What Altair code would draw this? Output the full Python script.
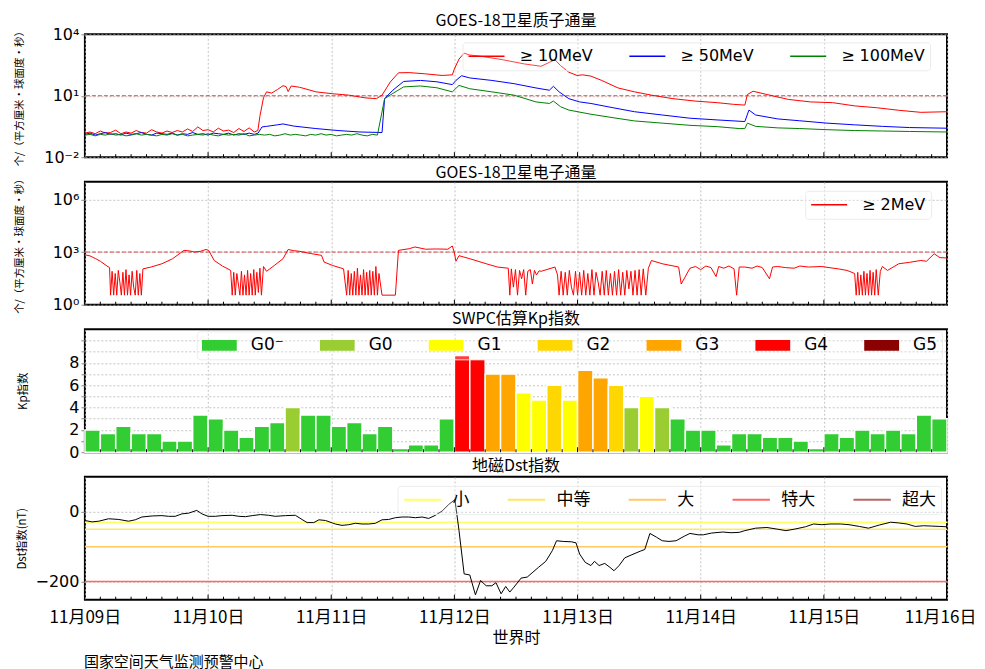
import altair as alt
import pandas as pd

FONT = "Noto Sans CJK SC"
NUMFONT = "DejaVu Sans, Noto Sans CJK SC"
BASE = pd.Timestamp("2025-11-09 00:00:00")
W, H = 863, 123

# ---------------- proton flux (hours since 11-09 00:00, values) ----------------
p10_h = [0, 1, 2, 3, 4, 5, 6, 7, 8, 9, 10, 11, 12, 13, 14, 15, 16, 17, 18, 19, 20, 21, 22, 23, 24, 25,
         26, 27, 28, 29, 30, 31, 32, 33, 33.7,
         34.1, 34.8, 35.4, 36.4, 37.5, 38.6, 39.2, 39.6, 40.2, 41.8,
         42.9, 45.0, 48.2, 51.4, 54.6, 56.8, 57.9, 59.5, 61.1, 63.2,
         66.4, 69.6, 71.6, 72.0, 72.9, 73.9, 75.0, 77.1, 81.4, 85.7,
         88.9, 90.5, 91.6, 92.7, 94.3, 95.9, 97.0, 98.6, 100.7, 103.9,
         107.1, 110.4, 114.6, 118.9, 123.2, 126.4, 128.6, 129.1, 130.2, 132.9,
         137.1, 141.4, 145.7, 150.0, 154.3, 158.6, 162.9, 168.0]
p10_v = [0.15, 0.17, 0.14, 0.19, 0.15, 0.16, 0.21, 0.14, 0.17, 0.15, 0.2, 0.16, 0.15, 0.22, 0.17, 0.15,
         0.19, 0.16, 0.2, 0.17, 0.24, 0.18, 0.3, 0.2, 0.22, 0.17, 0.26, 0.19, 0.21, 0.16, 0.25, 0.18,
         0.27, 0.17, 0.2,
         1.0, 8.0, 15.5, 13.5, 20, 31, 28, 16, 30, 26,
         22, 15.5, 12.6, 10.7, 7.9, 7.2, 10.7, 47, 132, 135,
         117, 98, 105, 204, 617, 1200, 977, 850, 575, 355,
         275, 427, 575, 295, 141, 98, 105, 91, 56, 24,
         15.5, 10.7, 7.2, 5.5, 4.6, 3.8, 3.5, 11.5, 16.6, 11.5,
         6.6, 5.0, 4.6, 3.2, 2.6, 1.95, 1.55, 1.66]

p50_h = [0, 1, 2, 3, 4, 5, 6, 7, 8, 9, 10, 11, 12, 13, 14, 15, 16, 17, 18, 19, 20, 21, 22, 23, 24, 25,
         26, 27, 28, 29, 30, 31, 32, 33,
         33.75, 34.5, 35.4, 37.5, 38.6, 40.7, 45.0, 49.3, 53.6, 57.9,
         58.4, 60.0, 62.1, 65.4, 68.6, 71.6, 72.3, 73.4, 75.0, 79.3,
         83.6, 87.9, 90.5, 91.3, 92.4, 94.3, 96.4, 98.6, 102.9, 107.1,
         112.5, 117.9, 123.2, 128.6, 129.4, 130.7, 135.0, 139.3, 144.6, 150.0,
         155.4, 160.7, 168.0]
p50_v = [0.13, 0.15, 0.12, 0.14, 0.16, 0.13, 0.14, 0.12, 0.15, 0.13, 0.14, 0.16, 0.13, 0.12, 0.15, 0.14,
         0.13, 0.15, 0.12, 0.14, 0.13, 0.16, 0.13, 0.14, 0.12, 0.15, 0.14, 0.13, 0.15, 0.12, 0.14, 0.13,
         0.15, 0.13,
         0.15, 0.3, 0.32, 0.38, 0.42, 0.33, 0.25, 0.2, 0.17, 0.16,
         7.2, 18.6, 50, 56, 48, 35, 56, 95, 74, 56,
         39, 24, 18.6, 29, 15.5, 7.2, 5.0, 4.2, 2.6, 1.66,
         1.15, 0.8, 0.66, 0.55, 2.0, 1.15, 0.74, 0.6, 0.46, 0.38,
         0.32, 0.28, 0.26]

p100_base = [0.12, 0.13, 0.11, 0.13, 0.12, 0.14, 0.12, 0.13, 0.11, 0.12, 0.14, 0.12, 0.13, 0.12, 0.11,
             0.13, 0.12, 0.14, 0.12, 0.13, 0.11, 0.12, 0.13, 0.12, 0.14, 0.12, 0.11, 0.13, 0.12, 0.13,
             0.12, 0.14, 0.11, 0.12, 0.13, 0.12, 0.13, 0.11, 0.12, 0.14, 0.12, 0.13, 0.12, 0.11, 0.13,
             0.12, 0.14, 0.12, 0.13, 0.11, 0.12, 0.13, 0.12, 0.14, 0.12, 0.11, 0.13, 0.12]
p100_h_late = [58.4, 60.0, 62.1, 65.4, 68.6, 71.6, 72.9, 75.0, 79.3, 83.6,
               87.9, 90.5, 91.3, 92.7, 94.3, 98.6, 102.9, 107.1, 112.5, 117.9,
               123.2, 127.5, 128.6, 129.1, 130.7, 135.0, 139.3, 144.6, 150.0, 155.4,
               160.7, 168.0]
p100_v_late = [7.2, 13, 27, 30, 24.5, 15.5, 32, 22, 15.5, 10.7,
               5.0, 4.2, 5.5, 2.9, 2.0, 1.25, 0.85, 0.59, 0.46, 0.36,
               0.31, 0.25, 0.25, 0.46, 0.32, 0.27, 0.25, 0.22, 0.2, 0.19,
               0.18, 0.17]
p100_h = list(range(len(p100_base))) + p100_h_late
p100_v = p100_base + p100_v_late

proton_names = ["≥ 10MeV", "≥ 50MeV", "≥ 100MeV"]

# ---------------- electron flux ----------------
e_h = ([0, 1, 2.1, 3, 4.3, 4.8]
       + [5.0, 5.3, 5.6, 5.9, 6.2, 6.5, 6.8, 7.1, 7.4, 7.7, 8.0, 8.3, 8.6, 8.9, 9.2, 9.5, 9.8, 10.1,
          10.4, 10.7, 11.0, 11.3]
       + [12.9, 15.0, 17.1, 19.3, 20.4, 21.4, 22.5, 23.6, 24.1, 25.2, 26.8, 28.4]
       + [28.7, 29.0, 29.3, 29.6, 29.9, 30.2, 30.5, 30.8, 31.1, 31.4, 31.7, 32.0, 32.3, 32.6, 32.9,
          33.2, 33.5, 33.8, 34.1, 34.4, 34.8, 35.4]
       + [37.0, 38.6, 39.6, 40.7, 41.8, 43.9, 46.1, 46.6, 48.2, 50.4]
       + [51.0, 51.3, 51.6, 51.9, 52.2, 52.5, 52.8, 53.1, 53.4, 53.7, 54.0, 54.3, 54.6, 54.9, 55.2,
          55.5, 55.8, 56.1, 56.4, 56.7, 57.0, 57.3, 57.9, 60.5]
       + [61.1, 63.2, 64.3, 66.4, 68.5, 70.7, 71.6, 72.0, 72.3, 72.9, 75.0, 78.2, 80.4, 82.5]
       + [82.8, 83.1, 83.5, 83.9, 84.3, 84.7, 85.1, 85.5, 85.9, 86.3, 86.8, 87.2, 87.6, 88.0, 88.5,
          88.9, 91.6, 92.1]
       + [92.4, 92.8, 93.2, 93.6, 94.0, 94.4, 94.8, 95.2, 95.6, 96.0, 96.4, 96.8, 97.2, 97.6, 98.0,
          98.4, 98.8, 99.2, 99.6, 100.0, 100.4, 100.8, 101.2, 101.6, 102.0, 102.4, 102.8, 103.2,
          103.6, 104.0, 104.4, 104.8, 105.2, 105.6, 106.0, 106.4, 106.8, 107.2, 107.6, 108.0,
          108.4, 108.8, 109.3, 109.8]
       + [110.4, 112.5, 115.7, 116.2, 117.9, 119.0, 120.0, 121.0, 122.0, 123.0, 123.5, 124.5, 125.5,
          126.5, 127.0, 127.5, 128.6, 130.0, 131.0, 132.0, 133.4, 134.0, 135.0, 136.5, 138.2,
          139.3, 141.0, 143.6, 145.0, 146.8, 148.5, 150.0]
       + [150.3, 150.6, 150.9, 151.2, 151.5, 151.8, 152.1, 152.4, 152.7, 153.0, 153.3, 153.6,
          153.9, 154.2, 154.6, 155.0, 155.4]
       + [156.4, 158.6, 160.7, 162.9, 164.0, 165.5, 166.6, 168.0])
e_v = ([700, 600, 417, 300, 160, 130]
       + [3.5, 80, 3.5, 60, 3.5, 90, 20, 3.5, 70, 3.5, 100, 3.5, 50, 3.5, 80, 10, 3.5, 90, 3.5, 60,
          3.5, 110]
       + [140, 215, 417, 1250, 1150, 1000, 1100, 1400, 1250, 330, 160, 90]
       + [3.5, 70, 3.5, 60, 15, 3.5, 80, 3.5, 50, 3.5, 90, 3.5, 60, 3.5, 100, 3.5, 70, 5, 120, 3.5,
          150, 80]
       + [180, 417, 1400, 1200, 1100, 830, 650, 270, 175, 110]
       + [3.5, 90, 3.5, 60, 3.5, 80, 3.5, 120, 3.5, 50, 3.5, 100, 3.5, 70, 3.5, 90, 3.5, 80, 3.5,
          150, 3.5, 60, 3.5, 3.5]
       + [1250, 1550, 1950, 1450, 1500, 1450, 2200, 900, 300, 620, 417, 215, 140, 120]
       + [3.5, 110, 10, 100, 3.5, 90, 30, 100, 3.5, 80, 100, 15, 90, 50, 85, 80, 140, 50]
       + [3.5, 80, 3.5, 70, 3.5, 90, 10, 3.5, 80, 3.5, 70, 3.5, 90, 3.5, 60, 3.5, 100, 3.5, 70, 20,
          3.5, 80, 3.5, 90, 3.5, 60, 3.5, 80, 3.5, 100, 3.5, 70, 3.5, 90, 8, 80, 3.5, 90, 3.5, 100,
          3.5, 110, 3.5, 120]
       + [330, 215, 140, 15, 120, 150, 100, 160, 130, 40, 150, 120, 160, 110, 3.5, 140, 140, 120,
          160, 130, 30, 140, 150, 130, 120, 160, 140, 150, 130, 110, 90, 60]
       + [3.5, 70, 3.5, 50, 3.5, 80, 3.5, 60, 3.5, 90, 3.5, 70, 3.5, 100, 3.5, 80, 150]
       + [90, 215, 260, 330, 300, 800, 480, 460])

# ---------------- Kp (3-hour) ----------------
kp_values = [2, 1.67, 2.33, 1.67, 1.67, 1, 1, 3.33,
             3, 2, 1.33, 2.33, 2.67, 4, 3.33, 3.33,
             2.33, 2.67, 1.67, 2.33, 0.33, 0.67, 0.67, 3,
             8.67, 8.33, 7, 7, 5.33, 4.67, 6, 4.67,
             7.33, 6.67, 6, 4, 5, 4, 3, 2,
             2, 0.67, 1.67, 1.67, 1.33, 1.33, 1, 0.33,
             1.67, 1.33, 2, 1.67, 2, 1.67, 3.33, 3]
kp_levels = ["G0⁻", "G0", "G1", "G2", "G3", "G4", "G5"]
kp_colors = ["#32CD32", "#9ACD32", "#FFFF00", "#FFD700", "#FFA500", "#FF0000", "#8B0000"]
kp_bounds = [3.5, 4.5, 5.5, 6.5, 7.5, 8.83]

# ---------------- Dst ----------------
dst_h = [0, 1.4, 2.7, 4.6, 6.6, 8.5, 9.8, 11.1, 13.1, 15.0, 16.3, 17.6, 18.9, 20.2, 21.8, 22.8, 24.0,
         25.4, 26.7, 28.7, 30.0, 31.3, 32.6, 34.2, 35.8, 37.1, 39.1, 41.0, 42.3, 43.3, 44.6, 45.6,
         46.9, 48.2, 48.8, 50.1, 51.4, 52.7, 54.0, 55.3, 56.6, 57.9, 59.2, 60.5, 61.8, 63.1, 64.4,
         65.7, 67.0, 68.3, 69.6, 70.9, 72.1,
         72.9, 73.9, 75.0, 76.1, 77.1, 78.2, 79.3, 80.1, 81.1, 82.0, 82.8, 83.6, 85.0, 86.2, 87.3,
         88.4, 89.8, 91.1, 91.9, 93.2, 94.8, 95.7, 96.4, 97.5, 98.6, 99.3, 100.2, 101.3, 102.3,
         103.1, 104.1, 105.2, 106.6, 108.2, 109.1, 110.1, 111.4, 112.5, 113.8, 115.2, 116.8,
         117.9, 119.5, 120.5, 122.1, 124.3, 125.9, 127.5, 128.6, 130.7, 132.9, 135.0, 136.6,
         138.2, 140.4, 142.0, 143.6, 145.2, 147.3, 148.9, 150.9, 152.7, 154.8, 157.0, 158.6,
         160.2, 161.8, 163.4, 165.0, 166.6, 168.0]
dst_v = [-25, -29, -27, -20, -22, -27, -23, -15, -12, -11, -13, -13, -6, -4, 4, -6, -13,
         -13, -11, -10, -13, -14, -11, -8, -10, -13, -11, -10, -22, -31, -31, -23,
         -25, -32, -35, -39, -37, -33, -35, -35, -33, -23, -22, -17, -15, -15, -17,
         -15, -19, -10, 2, 21, 35,
         -54, -178, -181, -238, -197, -212, -212, -203, -235, -214, -230, -216, -190, -187, -173,
         -159, -142, -111, -83, -85, -86, -89, -121, -145, -154, -142, -154, -148, -159,
         -169, -154, -132, -123, -113, -108, -62, -73, -83, -85, -83, -70,
         -62, -66, -66, -61, -58, -60, -59, -54, -47, -45, -50, -54,
         -50, -43, -35, -37, -35, -35, -37, -42, -47, -38, -30, -32,
         -35, -42, -40, -41, -42, -43]
dst_levels = ["小", "中等", "大", "特大", "超大"]
dst_thresholds = [-30, -50, -100, -200, -350]
dst_colors = ["#FFFF66", "#FFE766", "#FFC966", "#FF6666", "#B96666"]


def ts(hours):
    return [(BASE + pd.Timedelta(hours=h)).strftime("%Y-%m-%dT%H:%M:%S") for h in hours]


proton_df = pd.concat([
    pd.DataFrame({"time": ts(p10_h), "value": p10_v, "series": proton_names[0], "k": 0}),
    pd.DataFrame({"time": ts(p50_h), "value": p50_v, "series": proton_names[1], "k": 1}),
    pd.DataFrame({"time": ts(p100_h), "value": p100_v, "series": proton_names[2], "k": 2}),
])
electron_df = pd.DataFrame({"time": ts(e_h), "value": e_v, "series": "≥ 2MeV"})


def kp_level(v):
    for i, b in enumerate(kp_bounds):
        if v < b:
            return kp_levels[i]
    return kp_levels[-1]


kp_df = pd.DataFrame({
    "start": ts([3 * i for i in range(len(kp_values))]),
    "end": ts([3 * i + 3 for i in range(len(kp_values))]),
    "kp": kp_values,
    "level": [kp_level(v) for v in kp_values],
})
dst_df = pd.DataFrame({"time": ts(dst_h), "dst": dst_v})
thr_df = pd.DataFrame({"level": dst_levels, "v": dst_thresholds})

minor_df = pd.DataFrame({"t": ts([h for h in range(3, 168, 3) if h % 24 != 0])})
major_df = pd.DataFrame({"t": ts([h for h in range(24, 168, 24)])})

x_scale = alt.Scale(domain=[alt.DateTime(year=2025, month=11, date=9, hours=0),
                            alt.DateTime(year=2025, month=11, date=16, hours=0)])
day_values = [alt.DateTime(year=2025, month=11, date=d) for d in range(9, 17)]

axis_common = dict(grid=True, gridDash=[2, 2], gridColor="#b5b5b5", gridWidth=0.8, domain=False)
x_hidden = alt.Axis(values=day_values, labels=False, ticks=False, title=None, **axis_common)
x_shown = alt.Axis(values=day_values, ticks=False, title="世界时", labelFont=FONT, labelFontSize=17,
                   labelPadding=10, labelExpr="timeFormat(datum.value, '%m月%d日')",
                   labelFlush=False, labelBound=False,
                   labelOffset={"condition": {"test": "datum.value > datetime(2025, 10, 15, 12)",
                                              "value": -7}, "value": 0},
                   titleFont=FONT, titleFontSize=16, titleFontWeight="normal", titlePadding=4,
                   labelOverlap=False, **axis_common)


def ytitle(text, x, size=11.5):
    return dict(title=text, titleFont=FONT, titleFontSize=size, titleFontWeight="normal",
                titleAngle=270, titleX=x, titleY=H / 2, titleAlign="center", titleBaseline="middle")


def tick_layers(xaxis):
    minor = alt.Chart(minor_df).mark_rule(color="black", strokeWidth=1).encode(
        x=alt.X("t:T", scale=x_scale, axis=xaxis), y=alt.value(H), y2=alt.value(H - 3))
    major = alt.Chart(major_df).mark_rule(color="black", strokeWidth=1).encode(
        x=alt.X("t:T", scale=x_scale, axis=xaxis), y=alt.value(H), y2=alt.value(H - 5))
    return [minor, major]


def legend_box(x, y, **kw):
    base = dict(orient="none", legendX=x, legendY=y, direction="horizontal", title=None,
                labelFont=NUMFONT, labelFontSize=16, labelColor="black", labelOffset=14,
                columnPadding=35, padding=5, fillColor="rgba(255,255,255,0.25)",
                strokeColor="#ececec", cornerRadius=3, gridAlign="each", clipHeight=18)
    base.update(kw)
    return alt.Legend(**base)


def ptitle(text, off):
    return alt.TitleParams(text, offset=off, font=FONT, fontSize=16, fontWeight="normal", color="black")


# ---------------- panel 1 ----------------
p_scale = alt.Scale(type="log", domain=[0.01, 10000])
p_yaxis = alt.Axis(values=[0.01, 10, 10000],
                   labelExpr="datum.value < 0.1 ? '10⁻²' : (datum.value < 100 ? '10¹' : '10⁴')",
                   labelFont=NUMFONT, labelFontSize=16, tickSize=4, **axis_common,
                   **ytitle("个/（平方厘米·球面度·秒）", -65, 10.5))
proton_lines = alt.Chart(proton_df).mark_line(strokeWidth=1).encode(
    x=alt.X("time:T", scale=x_scale, axis=x_hidden),
    y=alt.Y("value:Q", scale=p_scale, axis=p_yaxis),
    color=alt.Color("series:N", scale=alt.Scale(domain=proton_names, range=["red", "blue", "green"]),
                    legend=legend_box(378, 8, symbolType="stroke", symbolSize=1300,
                                      symbolStrokeWidth=1.5)),
    detail="k:N",
)
proton_thr = alt.Chart(pd.DataFrame({"v": [10]})).mark_rule(
    color="#d04545", strokeDash=[4, 2], strokeWidth=1).encode(y=alt.Y("v:Q", scale=p_scale, axis=p_yaxis))
panel1 = alt.layer(proton_thr, proton_lines, *tick_layers(x_hidden)).properties(
    width=W, height=H, title=ptitle("GOES-18卫星质子通量", -3.5))

# ---------------- panel 2 ----------------
e_scale = alt.Scale(type="log", domain=[1, 10000000])
e_yaxis = alt.Axis(values=[1, 1000, 1000000],
                   labelExpr="datum.value < 10 ? '10⁰' : (datum.value < 10000 ? '10³' : '10⁶')",
                   labelFont=NUMFONT, labelFontSize=16, tickSize=4, **axis_common,
                   **ytitle("个/（平方厘米·球面度·秒）", -65, 10.5))
electron_line = alt.Chart(electron_df).mark_line(strokeWidth=1).encode(
    x=alt.X("time:T", scale=x_scale, axis=x_hidden),
    y=alt.Y("value:Q", scale=e_scale, axis=e_yaxis),
    color=alt.Color("series:N", scale=alt.Scale(domain=["≥ 2MeV"], range=["red"]),
                    legend=legend_box(721, 9, symbolType="stroke", symbolSize=1300,
                                      symbolStrokeWidth=1.5)),
)
electron_thr = alt.Chart(pd.DataFrame({"v": [1000]})).mark_rule(
    color="#d04545", strokeDash=[4, 2], strokeWidth=1).encode(y=alt.Y("v:Q", scale=e_scale, axis=e_yaxis))
panel2 = alt.layer(electron_thr, electron_line, *tick_layers(x_hidden)).properties(
    width=W, height=H, title=ptitle("GOES-18卫星电子通量", -7.5))

# ---------------- panel 3 ----------------
kp_yaxis = alt.Axis(values=list(range(0, 11)),
                    labelExpr="datum.value % 2 == 0 && datum.value <= 8 ? datum.value : ''",
                    labelFont=NUMFONT, labelFontSize=16, tickSize=4, **axis_common,
                    **ytitle("Kp指数", -61))
kp_bars = alt.Chart(kp_df).mark_bar(stroke="white", strokeWidth=1.5).encode(
    x=alt.X("start:T", scale=x_scale, axis=x_hidden),
    x2="end:T",
    y=alt.Y("kp:Q", scale=alt.Scale(domain=[0, 11]), axis=kp_yaxis),
    y2=alt.datum(0),
    color=alt.Color("level:N", scale=alt.Scale(domain=kp_levels, range=kp_colors),
                    legend=legend_box(112, 2, symbolType="M-1,-0.31L1,-0.31L1,0.31L-1,0.31Z",
                                      symbolSize=1225, symbolStrokeWidth=0, symbolOpacity=1,
                                      labelFontSize=17, columnPadding=36)),
)
panel3 = alt.layer(kp_bars, *tick_layers(x_hidden)).properties(
    width=W, height=H, title=ptitle("SWPC估算Kp指数", 2))

# ---------------- panel 4 ----------------
d_scale = alt.Scale(domain=[-252, 100])
d_yaxis = alt.Axis(values=[-200, 0], labelFont=NUMFONT, labelFontSize=16, tickSize=4,
                   **axis_common, **ytitle("Dst指数(nT)", -62))
dst_rules = alt.Chart(thr_df).mark_rule(strokeWidth=1.5, clip=True).encode(
    y=alt.Y("v:Q", scale=d_scale, axis=d_yaxis),
    color=alt.Color("level:N", scale=alt.Scale(domain=dst_levels, range=dst_colors),
                    legend=legend_box(313, 9, symbolType="stroke", symbolSize=1400,
                                      symbolStrokeWidth=2, labelFont=FONT, labelFontSize=17,
                                      labelOffset=10, columnPadding=37)),
)
dst_line = alt.Chart(dst_df).mark_line(color="black", strokeWidth=1).encode(
    x=alt.X("time:T", scale=x_scale, axis=x_shown),
    y=alt.Y("dst:Q", scale=d_scale, axis=d_yaxis),
)
panel4 = alt.layer(dst_rules, dst_line, *tick_layers(x_shown)).properties(
    width=W, height=H, title=ptitle("地磁Dst指数", 3))

chart = alt.vconcat(panel1, panel2, panel3, panel4, spacing=24.67, bounds="flush").properties(
    title=alt.TitleParams("国家空间天气监测预警中心", orient="bottom", anchor="start", fontSize=15,
                          font=FONT, fontWeight="normal", color="black", offset=8, dx=70),
    padding={"left": 5, "top": 3, "right": 0, "bottom": 2},
).configure_view(stroke="black", strokeWidth=2).configure_axis(
    labelColor="black", titleColor="black").resolve_scale(color="independent")

chart.save("out.html", embed_options={"renderer": "svg", "actions": False})
